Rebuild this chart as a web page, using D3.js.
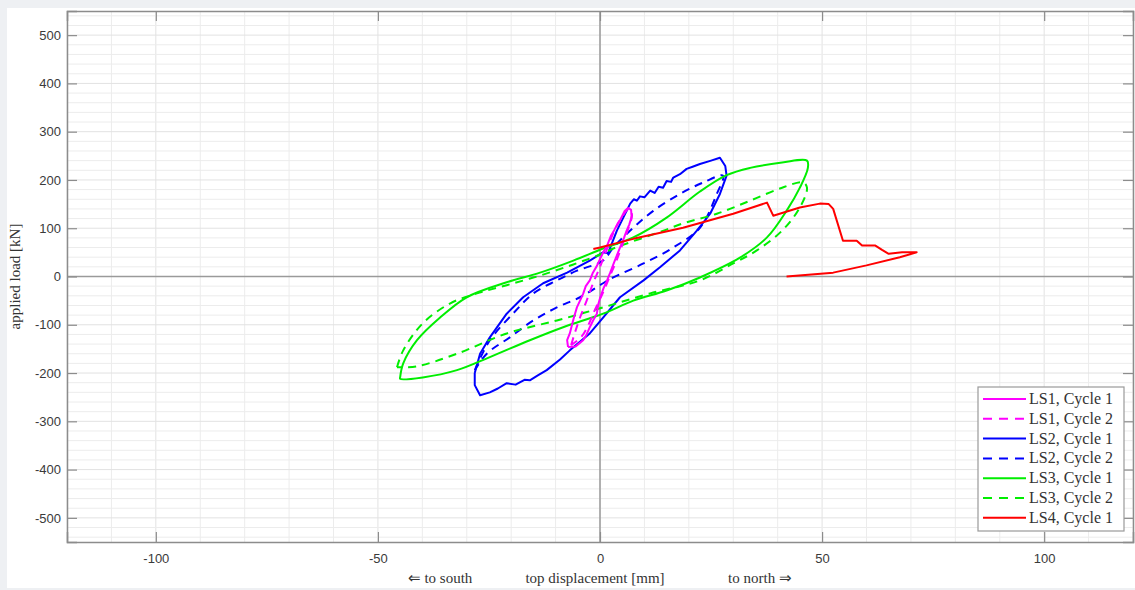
<!DOCTYPE html>
<html>
<head>
<meta charset="utf-8">
<script src="https://cdn.jsdelivr.net/npm/d3@7"></script>
<style>
html,body{margin:0;padding:0;background:#eef0f3;}
svg{display:block;}
</style>
</head>
<body>
<svg id="chart" width="1135" height="590"></svg>
<script>
// ---------- DATA ----------
const xTicks = [-100, -50, 0, 50, 100];
const yTicks = [-500, -400, -300, -200, -100, 0, 100, 200, 300, 400, 500];
const seriesNames = ["LS1, Cycle 1","LS1, Cycle 2","LS2, Cycle 1","LS2, Cycle 2","LS3, Cycle 1","LS3, Cycle 2","LS4, Cycle 1"];
const seriesColors = ["#ff00ff","#ff00ff","#0000ff","#0000ff","#00ee00","#00ee00","#ff0000"];
const seriesDashed = [false,true,false,true,false,true,false];

// [displacement mm, load kN]
const ls1c1 = [[-7.2,-146],[-7.4,-132],[-6.8,-118],[-6.3,-100],[-5.9,-86],[-5.2,-64],[-4.6,-52],[-3.8,-36],[-3.2,-20],[-2.3,-8],[-1.6,8],[-0.7,22],[0.2,40],[1,55],[1.6,64],[2.5,85],[3.2,96],[4,110],[4.6,118],[5.5,135],[6.3,142],[7,138],[7.1,126],[7,120],[6.6,108],[6,95],[5.4,80],[4.5,60],[3.8,44],[3,25],[2.3,8],[1.5,-10],[0.8,-24],[0,-45],[-0.4,-58],[-0.7,-77],[-1.5,-90],[-2.3,-105],[-3,-120],[-3.8,-132],[-4.6,-138],[-5.5,-145],[-7.2,-146]];
const ls1c2 = [[-6.5,-142],[-5.6,-115],[-4.5,-85],[-3,-50],[-1.6,-15],[0,20],[1.5,55],[3,90],[4.6,118],[6.5,140],[7.2,128],[6.4,100],[5.2,70],[3.8,35],[2.2,0],[0.6,-35],[-1.2,-70],[-2.6,-100],[-4.2,-125],[-6.5,-142]];
const ls2c1 = [[-28.2,-200],[-27,-160],[-24.8,-126],[-21,-77],[-17.3,-43],[-12.8,-14],[-7.4,8],[-2.3,33],[0.7,50],[1.8,48],[3.8,95],[6.8,151],[7.6,160],[8.3,157],[9,166],[10,164],[11.3,178],[12.3,173],[13.2,186],[14.2,184],[15,198],[16,196],[16.5,205],[18,212],[19.5,223],[21,228],[22.5,233],[25,240],[27,246],[28.2,229],[28.5,209],[27,171],[24.8,130],[21.8,95],[18,54],[13.5,19],[9.8,-8],[4.5,-43],[0.7,-85],[-2.3,-118],[-6.8,-153],[-9,-172],[-12,-194],[-14,-205],[-15.8,-215],[-17,-214],[-19,-224],[-21,-221],[-23,-232],[-24.8,-240],[-27,-246],[-28.2,-225],[-28.2,-200]];
const ls2c2 = [[-28.2,-194],[-24.8,-132],[-19.6,-77],[-15,-35],[-9.7,-8],[-5.2,12],[0.7,33],[3,60],[7.5,101],[12,136],[18,171],[23.3,195],[27.7,209],[26.3,171],[22.5,101],[16.5,60],[9.8,27],[3,-2],[0.7,-14],[-4.5,-43],[-9.7,-64],[-15,-91],[-20.3,-126],[-25.5,-160],[-28.2,-194]];
const ls3c1 = [[-45,-209],[-44.3,-180],[-41.2,-132],[-36,-85],[-30,-43],[-21,-12],[-13.5,8],[-6,33],[0.7,58],[7.5,81],[15,122],[22.5,176],[28.5,210],[33.8,225],[41,236],[46.6,240],[46.8,225],[45,184],[42,136],[37.6,81],[31.5,39],[22.5,-2],[15,-29],[7.5,-50],[0.7,-77],[-8.3,-105],[-15.8,-132],[-24.8,-167],[-32.2,-194],[-39.9,-209],[-45,-212],[-45,-209]];
const ls3c2 = [[-45.7,-188],[-44.3,-153],[-39.9,-97],[-33.8,-56],[-27.7,-35],[-21,-18],[-13.5,2],[-6,25],[0.7,48],[3,58],[14.3,95],[18.7,110],[26.3,130],[33.8,157],[41,184],[45.7,195],[46.6,184],[45,143],[41,95],[35.3,54],[30,27],[22.5,-8],[11.3,-35],[0.7,-64],[-9.7,-91],[-21,-118],[-32.2,-160],[-41.2,-186],[-45.7,-188]];
const ls4c1 = [[-1.5,57],[0,60],[7.5,78],[18.7,101],[30,130],[37.6,153],[39,126],[45,143],[49.5,151],[51.5,150],[52.5,140],[54.7,74],[57.8,74],[59,64],[62,64],[63.5,55],[65,47],[68,50],[71.3,50],[67.5,40],[60,23],[52.5,8],[42,0]];
const seriesData = [ls1c1, ls1c2, ls2c1, ls2c2, ls3c1, ls3c2, ls4c1];
const seriesSmooth = [false,true,false,true,true,true,false];

// ---------- LAYOUT ----------
const svg = d3.select("#chart");
const L = 67, R = 1133, T = 11, B = 542;
svg.append("rect").attr("x",7).attr("y",8).attr("width",1128).attr("height",580).attr("fill","#ffffff");

const x = d3.scaleLinear().domain([-120,120]).range([L,R]);
const y = d3.scaleLinear().domain([-550,550]).range([B,T]);

// grid
const g = svg.append("g");
g.selectAll("line.vg").data(d3.range(-120,121,10)).join("line")
  .attr("x1",d=>x(d)).attr("x2",d=>x(d)).attr("y1",T).attr("y2",B)
  .attr("stroke",d=>d%50===0?"#e2e2e2":"#ececec").attr("stroke-width",1);
g.selectAll("line.hg").data(d3.range(-540,541,20)).join("line")
  .attr("y1",d=>y(d)).attr("y2",d=>y(d)).attr("x1",L).attr("x2",R)
  .attr("stroke",d=>d%100===0?"#e2e2e2":"#ececec").attr("stroke-width",1);

// zero lines
svg.append("line").attr("x1",x(0)).attr("x2",x(0)).attr("y1",T).attr("y2",B).attr("stroke","#9a9a9a").attr("stroke-width",1.5);
svg.append("line").attr("y1",y(0)).attr("y2",y(0)).attr("x1",L).attr("x2",R).attr("stroke","#9a9a9a").attr("stroke-width",1.5);

// axes
const fmt = d => String(d);
const axB = d3.axisBottom(x).tickValues(xTicks).tickSize(-10).tickPadding(12).tickFormat(fmt);
const axT = d3.axisTop(x).tickValues(xTicks).tickSize(-10).tickFormat("");
const axLf = d3.axisLeft(y).tickValues(yTicks).tickSize(-10).tickPadding(6).tickFormat(fmt);
const axRt = d3.axisRight(y).tickValues(yTicks).tickSize(-10).tickFormat("");
function styleAxis(sel){
  sel.select(".domain").attr("stroke","#8c8c8c").attr("stroke-width",1.5);
  sel.selectAll(".tick line").attr("stroke","#8c8c8c").attr("stroke-width",1.2);
  sel.selectAll(".tick text").attr("fill","#3a3a3a").style("font-family","Liberation Sans, Arial, sans-serif").style("font-size","13px");
}
svg.append("g").attr("transform",`translate(0,${B})`).call(axB).call(styleAxis);
svg.append("g").attr("transform",`translate(0,${T})`).call(axT).call(styleAxis);
svg.append("g").attr("transform",`translate(${L},0)`).call(axLf).call(styleAxis);
svg.append("g").attr("transform",`translate(${R},0)`).call(axRt).call(styleAxis);

// series
const drawOrder = [2,3,4,5,0,1,6];
svg.append("clipPath").attr("id","clip").append("rect").attr("x",L).attr("y",T).attr("width",R-L).attr("height",B-T);
const pg = svg.append("g").attr("clip-path","url(#clip)");
drawOrder.forEach(i=>{
  const line = d3.line().x(d=>x(d[0])).y(d=>y(d[1]))
    .curve(seriesSmooth[i] ? d3.curveCatmullRom.alpha(0.5) : d3.curveLinear);
  pg.append("path").datum(seriesData[i]).attr("d",line)
    .attr("fill","none").attr("stroke",seriesColors[i]).attr("stroke-width",2)
    .attr("stroke-linejoin","round")
    .attr("stroke-dasharray",seriesDashed[i]?"8,6":null);
});

// labels
const serif = "Liberation Serif, Times New Roman, serif";
svg.append("text").attr("transform",`translate(20,${y(0)}) rotate(-90)`).attr("text-anchor","middle")
  .style("font-family",serif).style("font-size","15px").attr("fill","#333").text("applied load [kN]");
svg.append("text").attr("x",595).attr("y",583).attr("text-anchor","middle")
  .style("font-family",serif).style("font-size","15px").attr("fill","#333").text("top displacement [mm]");
svg.append("text").attr("x",440).attr("y",583).attr("text-anchor","middle")
  .style("font-family",serif).style("font-size","15px").attr("fill","#333").text("⇐ to south");
svg.append("text").attr("x",760).attr("y",583).attr("text-anchor","middle")
  .style("font-family",serif).style("font-size","15px").attr("fill","#333").text("to north ⇒");

// legend
const lg = svg.append("g");
lg.append("rect").attr("x",978).attr("y",387).attr("width",146).attr("height",144)
  .attr("fill","#ffffff").attr("stroke","#9a9a9a").attr("stroke-width",1.2);
seriesNames.forEach((n,i)=>{
  const yy = 399 + i*19.8;
  lg.append("line").attr("x1",983).attr("x2",1026).attr("y1",yy).attr("y2",yy)
    .attr("stroke",seriesColors[i]).attr("stroke-width",2)
    .attr("stroke-dasharray",seriesDashed[i]?"9,7":null);
  lg.append("text").attr("x",1029).attr("y",yy+5).style("font-family",serif).style("font-size","16px")
    .attr("fill","#333").text(n);
});
</script>
</body>
</html>
